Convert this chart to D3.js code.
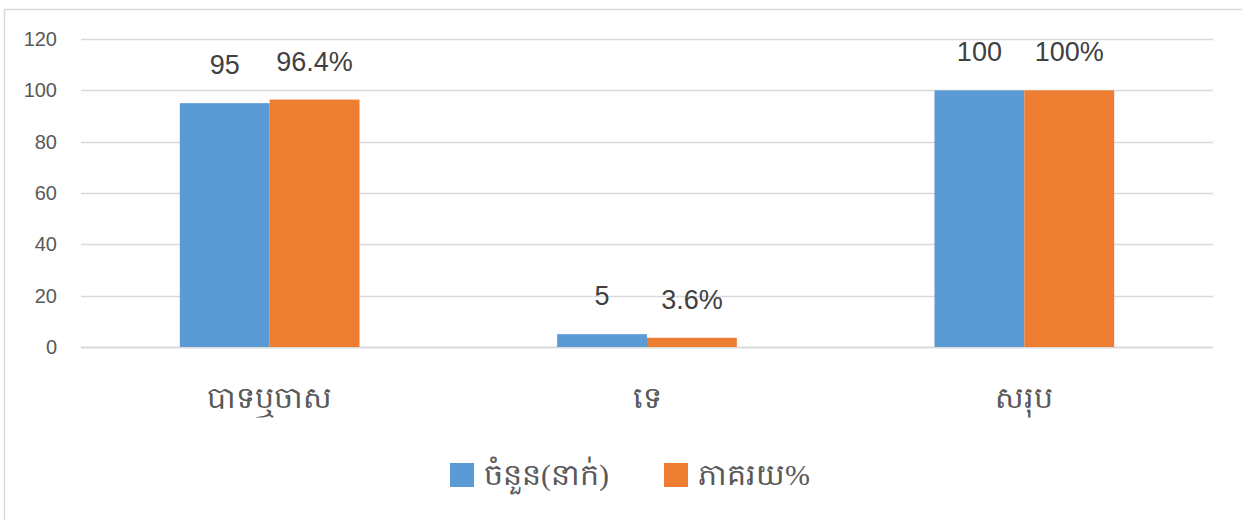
<!DOCTYPE html>
<html>
<head>
<meta charset="utf-8">
<script src="https://cdn.jsdelivr.net/npm/d3@7"></script>
<style>
  body { margin: 0; background: #fff; }
  svg { display: block; }
</style>
</head>
<body>
<div id="chart"></div>
<script>
  var categories = ["បាទឬចាស", "ទេ", "សរុប"];
  var seriesNames = ["ចំនួន(នាក់)", "ភាគរយ%"];
  var counts = [95, 5, 100];
  var percents = [96.4, 3.6, 100];
  var countLabels = ["95", "5", "100"];
  var percentLabels = ["96.4%", "3.6%", "100%"];
  var yTicks = [0, 20, 40, 60, 80, 100, 120];

  var colors = ["#5B9BD5", "#ED7D31"];
  var outerWidth = 1242, outerHeight = 520;
  var margin = { top: 39, right: 29, bottom: 173, left: 81 },
      width = outerWidth - margin.left - margin.right,
      height = outerHeight - margin.top - margin.bottom;

  var rows = categories.map((c, i) => ({
    name: c,
    values: [
      { s: 0, v: counts[i], label: countLabels[i] },
      { s: 1, v: percents[i], label: percentLabels[i] }
    ]
  }));

  var x0 = d3.scaleBand().domain(categories).range([0, width]).padding(0);
  var x1 = d3.scaleBand().domain([0, 1]).range([0, x0.bandwidth()]).paddingInner(0).paddingOuter(1.1);
  var y = d3.scaleLinear().domain([0, 120]).range([height, 0]);

  var svg = d3.select("#chart").append("svg")
      .attr("width", outerWidth)
      .attr("height", outerHeight);

  // chart frame
  svg.append("rect")
      .attr("x", 4.5).attr("y", 9.5)
      .attr("width", outerWidth).attr("height", outerHeight)
      .attr("fill", "none")
      .attr("stroke", "#d9d9d9")
      .attr("stroke-width", 1.5);

  var g = svg.append("g")
      .attr("transform", `translate(${margin.left},${margin.top})`);

  // grid
  g.append("g")
    .selectAll("line")
    .data(yTicks)
    .join("line")
      .attr("x1", 0).attr("x2", width)
      .attr("y1", d => Math.round(y(d)) + 0.5)
      .attr("y2", d => Math.round(y(d)) + 0.5)
      .attr("stroke", "#d9d9d9")
      .attr("stroke-width", d => d === 0 ? 2 : 1.5);

  // y axis labels
  var yAxis = d3.axisLeft(y).tickValues(yTicks).tickSize(0).tickPadding(24);
  g.append("g")
      .call(yAxis)
      .call(a => a.select(".domain").remove())
      .selectAll("text")
        .attr("font-family", "'Liberation Sans', Arial, sans-serif")
        .attr("font-size", "20px")
        .attr("fill", "#595959");

  // bars
  var groups = g.append("g")
    .selectAll("g")
    .data(rows)
    .join("g")
      .attr("transform", d => `translate(${x0(d.name)},0)`);

  groups.selectAll("rect")
    .data(d => d.values)
    .join("rect")
      .attr("x", d => x1(d.s))
      .attr("width", x1.bandwidth())
      .attr("y", d => y(d.v))
      .attr("height", d => height - y(d.v))
      .attr("fill", d => colors[d.s]);

  groups.selectAll("text")
    .data(d => d.values)
    .join("text")
      .attr("x", d => x1(d.s) + x1.bandwidth() / 2)
      .attr("y", d => y(d.v) - 29)
      .attr("text-anchor", "middle")
      .attr("font-family", "'Liberation Sans', Arial, sans-serif")
      .attr("font-size", "27px")
      .attr("fill", "#404040")
      .text(d => d.label);

  // category labels
  g.append("g")
    .selectAll("text")
    .data(categories)
    .join("text")
      .attr("x", d => x0(d) + x0.bandwidth() / 2)
      .attr("y", height + 61)
      .attr("text-anchor", "middle")
      .attr("font-size", "30px")
      .attr("fill", "#595959")
      .text(d => d);

  // legend
  var legendX = [450, 664];
  var legend = svg.append("g")
    .selectAll("g")
    .data(seriesNames)
    .join("g")
      .attr("transform", (d, i) => `translate(${legendX[i]},463)`);

  legend.append("rect")
      .attr("width", 24).attr("height", 24)
      .attr("fill", (d, i) => colors[i]);

  legend.append("text")
      .attr("x", 34).attr("y", 22)
      .attr("font-size", "30px")
      .attr("fill", "#595959")
      .text(d => d);
</script>
</body>
</html>
